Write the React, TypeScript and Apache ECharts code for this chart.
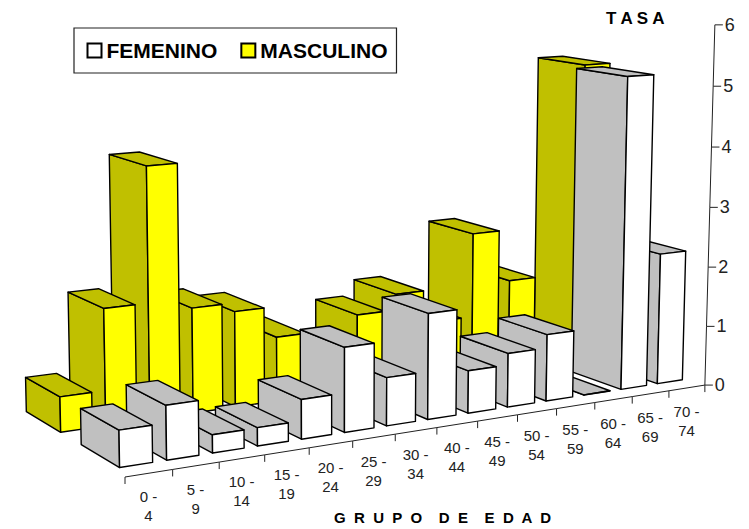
import React, { useEffect, useRef } from "react";
import * as echarts from "echarts";

const categories = ["0 -\n4", "5 -\n9", "10 -\n14", "15 -\n19", "20 -\n24", "25 -\n29", "30 -\n34", "40 -\n44", "45 -\n49", "50 -\n54", "55 -\n59", "60 -\n64", "65 -\n69", "70 -\n74"];
const femenino = [0.56, 0.83, 0.28, 0.285, 0.62, 1.34, 0.77, 1.7, 0.69, 0.88, 1.1, 0.005, 5.19, 2.2];
const masculino = [0.56, 1.86, 4.02, 1.7, 1.56, 1.055, 0.5, 1.254, 1.52, 0.97, 2.4, 1.516, 0.5, 5.135];
const valueTicks = [0, 1, 2, 3, 4, 5, 6];

// Perspective camera: vanishing points of the three box directions
const O = [125, 477];
const VU = [4245, -176], LU = 0.0117;
const VD = [-950, -173], LD = 0.0455;
const VH = [333, 13780], LH = -0.00508;
const BAR_LO = 0.17, BAR_HI = 0.87;
const ROW_FEM = [0.28, 1.11];
const ROW_MAS = [1.58, 2.41];

function project(u: number, d: number, h: number): number[] {
  const w = 1 + LU * u + LD * d + LH * h;
  return [
    (O[0] + LU * VU[0] * u + LD * VD[0] * d + LH * VH[0] * h) / w,
    (O[1] + LU * VU[1] * u + LD * VD[1] * d + LH * VH[1] * h) / w,
  ];
}

function barRenderer(row: number[], front: string, shade: string) {
  return (_p: any, api: any) => {
    const i = api.value(0);
    const v = api.value(1);
    const a = i + BAR_LO, b = i + BAR_HI, d0 = row[0], d1 = row[1];
    const style = (fill: string) => ({ fill, stroke: "#000", lineWidth: 1.4, lineJoin: "round" });
    const poly = (pts: number[][], fill: string) => ({ type: "polygon", shape: { points: pts }, style: style(fill) });
    return {
      type: "group",
      children: [
        poly([project(a, d0, 0), project(a, d1, 0), project(a, d1, v), project(a, d0, v)], shade),
        poly([project(a, d0, v), project(a, d1, v), project(b, d1, v), project(b, d0, v)], shade),
        poly([project(a, d0, 0), project(b, d0, 0), project(b, d0, v), project(a, d0, v)], front),
      ],
    };
  };
}

// Painter's order: bars to the right lie behind those to their left
const order = (vals: number[]) => vals.map((v, i) => [i, v]).reverse();

function catAxisRenderer(_p: any, api: any) {
  const i = api.value(0);
  const start = project(i, 0, 0), end = project(i + 1, 0, 0);
  const children: any[] = [
    { type: "line", shape: { x1: start[0], y1: start[1], x2: end[0], y2: end[1] }, style: { stroke: "#222", lineWidth: 1 } },
    { type: "line", shape: { x1: start[0], y1: start[1], x2: start[0], y2: start[1] + 7 }, style: { stroke: "#222", lineWidth: 1 } },
  ];
  if (i === categories.length - 1) {
    children.push({ type: "line", shape: { x1: end[0], y1: end[1], x2: end[0], y2: end[1] + 7 }, style: { stroke: "#222", lineWidth: 1 } });
  }
  const mid = project(i + 0.5, 0, 0);
  children.push({
    type: "text",
    style: {
      x: mid[0] - 0.5, y: mid[1] + 14, text: categories[i], align: "center", verticalAlign: "top",
      font: "15px 'Liberation Sans', Arial, sans-serif", lineHeight: 19, fill: "#222",
    },
  });
  return { type: "group", children };
}

function valAxisRenderer(_p: any, api: any) {
  const v = api.value(0);
  const p = project(categories.length, 0, v);
  const children: any[] = [
    { type: "line", shape: { x1: p[0], y1: p[1], x2: p[0] + 8, y2: p[1] }, style: { stroke: "#222", lineWidth: 1 } },
    {
      type: "text",
      style: { x: p[0] + 10, y: p[1], text: String(v), align: "left", verticalAlign: "middle", font: "18px 'Liberation Sans', Arial, sans-serif", fill: "#222" },
    },
  ];
  if (v < valueTicks[valueTicks.length - 1]) {
    const q = project(categories.length, 0, v + 1);
    children.push({ type: "line", shape: { x1: p[0], y1: p[1], x2: q[0], y2: q[1] }, style: { stroke: "#222", lineWidth: 1 } });
  }
  return { type: "group", children };
}

export default function App() {
  const ref = useRef<HTMLDivElement>(null);
  useEffect(() => {
    const chart = echarts.init(ref.current!, undefined, { renderer: "svg" });
    chart.setOption({
      animation: false,
      backgroundColor: "#fff",
      legend: {
        data: ["FEMENINO", "MASCULINO"],
        left: 74,
        top: 28,
        padding: [12, 9, 12, 12.5],
        itemWidth: 14,
        itemHeight: 14,
        itemGap: 23,
        icon: "rect",
        borderColor: "#222",
        borderWidth: 1.2,
        selectedMode: false,
        textStyle: { fontFamily: "'Liberation Sans', Arial, sans-serif", fontWeight: "bold", fontSize: 21, color: "#000", padding: [2, 0, 0, 0] },
      },
      graphic: [
        { type: "text", left: 606, top: 10, style: { text: "T A S A", font: "bold 17px 'Liberation Sans', Arial, sans-serif", fill: "#000" } },
        { type: "text", left: 334, top: 510, style: { text: "G  R  U  P  O    D  E    E  D  A  D", font: "bold 15px 'Liberation Sans', Arial, sans-serif", fill: "#000" } },
      ],
      series: [
        {
          type: "custom", name: "axis-cat", coordinateSystem: "none", silent: true, z: 1,
          data: categories.map((_, i) => [i]), renderItem: catAxisRenderer,
        },
        {
          type: "custom", name: "axis-val", coordinateSystem: "none", silent: true, z: 1,
          data: valueTicks.map((v) => [v]), renderItem: valAxisRenderer,
        },
        {
          type: "custom", name: "MASCULINO", coordinateSystem: "none", silent: true, z: 2,
          itemStyle: { color: "#FFFF00", borderColor: "#000", borderWidth: 1 },
          data: order(masculino), renderItem: barRenderer(ROW_MAS, "#FFFF00", "#C0C000"),
        },
        {
          type: "custom", name: "FEMENINO", coordinateSystem: "none", silent: true, z: 3,
          itemStyle: { color: "#FFFFFF", borderColor: "#000", borderWidth: 1 },
          data: order(femenino), renderItem: barRenderer(ROW_FEM, "#FFFFFF", "#C0C0C0"),
        },
      ],
    });
    return () => chart.dispose();
  }, []);
  return <div ref={ref} style={{ position: "absolute", left: 0, top: 0, width: 749, height: 529 }} />;
}
